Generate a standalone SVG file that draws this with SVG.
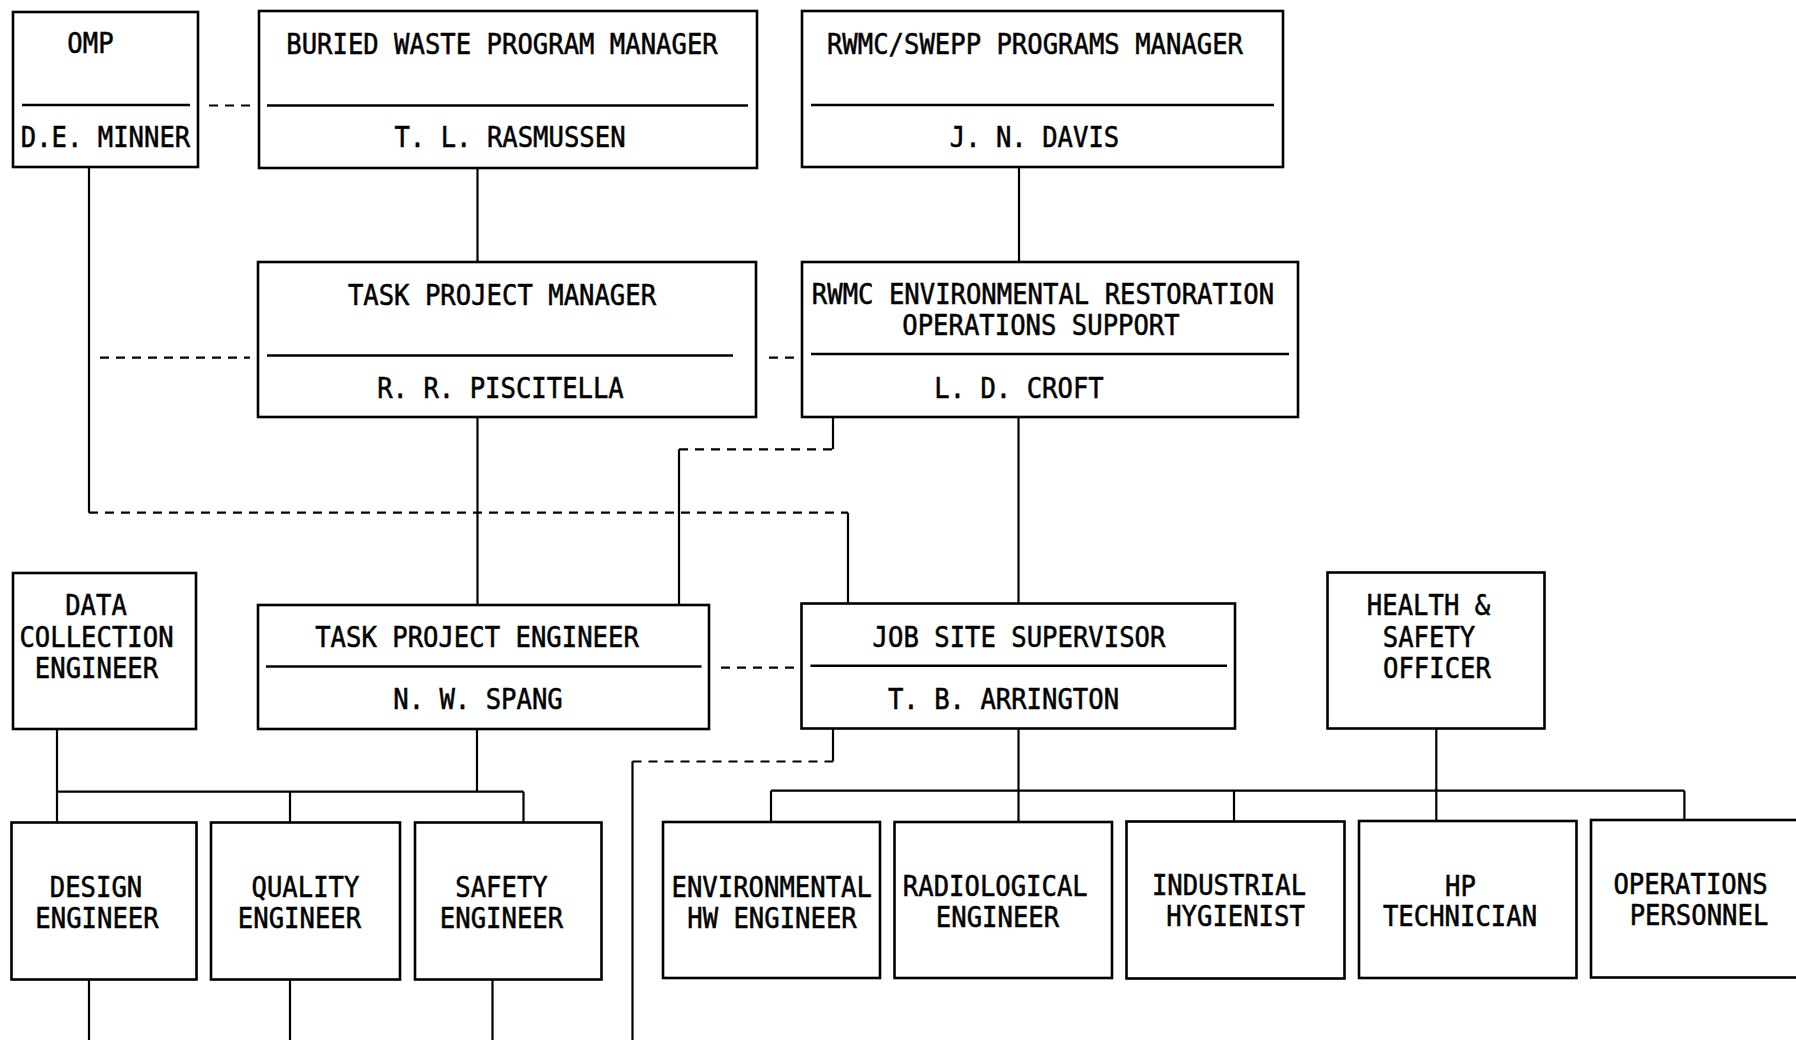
<svg xmlns="http://www.w3.org/2000/svg" width="1796" height="1040" viewBox="0 0 1796 1040">
<style>
.bx{fill:#fff;stroke:#000;stroke-width:2.6}
.dv{stroke:#000;stroke-width:2.6}
.t{font-family:"DejaVu Sans Mono","Liberation Mono",monospace;font-size:25.6px;fill:#000;stroke:#000;stroke-width:0.5;text-anchor:middle;transform-box:fill-box;transform-origin:center;transform:scale(1,1.1)}
.s{fill:none;stroke:#000;stroke-width:2.2}
.d{fill:none;stroke:#000;stroke-width:2.2;stroke-dasharray:9 7}
</style>
<rect width="1796" height="1040" fill="#fff"/>
<g id="connectors">
<path class="s" d="M89,167V512.7M477.5,168V262M1019,167V262M477.5,417V605M833,417V449.3M679,449.3V604.5M1018.5,417V603.5M848,512.7V603.5M57,729V822.5M477,729V791.7M57,791.7H523.5M290,791.7V822.5M523.5,791.7V822.5M89,979.5V1040M290,979.5V1040M492.5,979.5V1040M833,728.5V761.5M632.5,761.5V1040M1018.5,728.5V822M1436.3,728.5V821M771,790.7H1684.4M771,790.7V822M1234,790.7V821.5M1684.4,790.7V820"/>
<path class="d" d="M209,105.5H250M100,357.7H250M769,357.7H794M679,449.3H833M89,512.7H848M721,667.7H794M632.5,761.5H833"/>
</g>
<g id="n-omp">
<rect class="bx" x="13" y="12" width="185" height="155"/>
<line class="dv" x1="22" y1="105" x2="190" y2="105"/>
<text class="t" x="90.5" y="52">OMP</text>
<text class="t" x="105.5" y="146">D.E. MINNER</text>
</g>
<g id="n-bwpm">
<rect class="bx" x="259" y="11" width="498" height="157"/>
<line class="dv" x1="267" y1="105.5" x2="748" y2="105.5"/>
<text class="t" x="502" y="53">BURIED WASTE PROGRAM MANAGER</text>
<text class="t" x="510" y="146">T. L. RASMUSSEN</text>
</g>
<g id="n-rwmc">
<rect class="bx" x="802" y="11" width="481" height="156"/>
<line class="dv" x1="811" y1="105" x2="1274" y2="105"/>
<text class="t" x="1035" y="53">RWMC/SWEPP PROGRAMS MANAGER</text>
<text class="t" x="1034.5" y="146.5">J. N. DAVIS</text>
</g>
<g id="n-tpm">
<rect class="bx" x="258" y="262" width="498" height="155"/>
<line class="dv" x1="267" y1="355.5" x2="733" y2="355.5"/>
<text class="t" x="502" y="304">TASK PROJECT MANAGER</text>
<text class="t" x="500.5" y="397">R. R. PISCITELLA</text>
</g>
<g id="n-rwmcer">
<rect class="bx" x="802" y="262" width="496" height="155"/>
<line class="dv" x1="811" y1="354" x2="1289" y2="354"/>
<text class="t" x="1043" y="303">RWMC ENVIRONMENTAL RESTORATION</text>
<text class="t" x="1041" y="334.5">OPERATIONS SUPPORT</text>
<text class="t" x="1019" y="397">L. D. CROFT</text>
</g>
<g id="n-dce">
<rect class="bx" x="13" y="573" width="183" height="156"/>
<text class="t" x="96" y="614">DATA</text>
<text class="t" x="96.5" y="646">COLLECTION</text>
<text class="t" x="96.5" y="677">ENGINEER</text>
</g>
<g id="n-tpe">
<rect class="bx" x="258" y="605" width="451" height="124"/>
<line class="dv" x1="266" y1="666.5" x2="701.5" y2="666.5"/>
<text class="t" x="477" y="646.5">TASK PROJECT ENGINEER</text>
<text class="t" x="478" y="708.5">N. W. SPANG</text>
</g>
<g id="n-jss">
<rect class="bx" x="801.5" y="603.5" width="433.5" height="125"/>
<line class="dv" x1="810.5" y1="665.7" x2="1227" y2="665.7"/>
<text class="t" x="1019" y="646.5">JOB SITE SUPERVISOR</text>
<text class="t" x="1003.5" y="708.5">T. B. ARRINGTON</text>
</g>
<g id="n-hso">
<rect class="bx" x="1327.5" y="572.5" width="217" height="156"/>
<text class="t" x="1428.5" y="614">HEALTH &amp;</text>
<text class="t" x="1429" y="646">SAFETY</text>
<text class="t" x="1437" y="677">OFFICER</text>
</g>
<g id="n-design">
<rect class="bx" x="11.5" y="822.5" width="185" height="157"/>
<text class="t" x="96" y="896.5">DESIGN</text>
<text class="t" x="97" y="927">ENGINEER</text>
</g>
<g id="n-quality">
<rect class="bx" x="211" y="822.5" width="189" height="157"/>
<text class="t" x="305.5" y="896.5">QUALITY</text>
<text class="t" x="299.5" y="927">ENGINEER</text>
</g>
<g id="n-safety">
<rect class="bx" x="415" y="822.5" width="186.5" height="157"/>
<text class="t" x="501.5" y="896.5">SAFETY</text>
<text class="t" x="501.5" y="927">ENGINEER</text>
</g>
<g id="n-envhw">
<rect class="bx" x="663" y="822" width="217" height="156"/>
<text class="t" x="771.7" y="896">ENVIRONMENTAL</text>
<text class="t" x="772" y="927">HW ENGINEER</text>
</g>
<g id="n-radio">
<rect class="bx" x="894.5" y="822" width="217.5" height="156"/>
<text class="t" x="995.3" y="895">RADIOLOGICAL</text>
<text class="t" x="997.5" y="926">ENGINEER</text>
</g>
<g id="n-ih">
<rect class="bx" x="1126.5" y="821.5" width="218" height="157"/>
<text class="t" x="1229" y="894.5">INDUSTRIAL</text>
<text class="t" x="1235.5" y="925">HYGIENIST</text>
</g>
<g id="n-hp">
<rect class="bx" x="1359" y="821" width="217.5" height="157"/>
<text class="t" x="1460.5" y="894.7">HP</text>
<text class="t" x="1460" y="925">TECHNICIAN</text>
</g>
<g id="n-ops">
<rect class="bx" x="1591" y="820" width="230" height="157.5"/>
<text class="t" x="1690.5" y="892.7">OPERATIONS</text>
<text class="t" x="1699" y="924">PERSONNEL</text>
</g>
</svg>
